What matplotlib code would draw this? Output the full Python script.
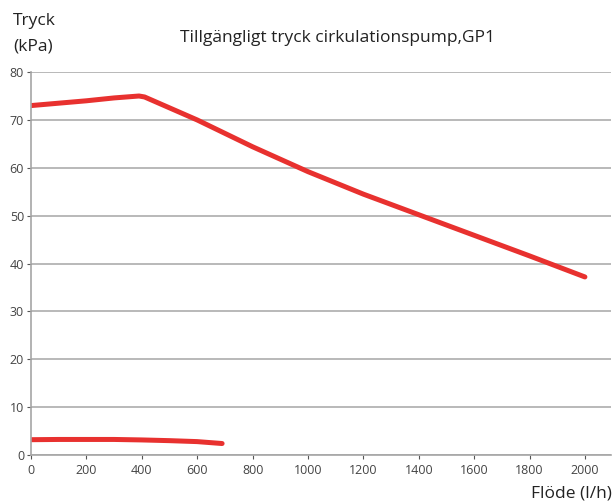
import matplotlib
matplotlib.use("Agg")
import matplotlib.pyplot as plt

# upper curve: available pressure
flow_high = [0, 100, 200, 300, 390, 410, 600, 800, 1000, 1200, 1400, 1600, 1800, 2000]
press_high = [73, 73.5, 74.0, 74.6, 75.0, 74.8, 70.0, 64.4, 59.2, 54.5, 50.2, 45.9, 41.6, 37.2]

# lower curve
flow_low = [0, 100, 200, 300, 400, 500, 600, 690]
press_low = [3.2, 3.25, 3.25, 3.25, 3.15, 3.0, 2.8, 2.4]

xticks = list(range(0, 2001, 200))
yticks = list(range(0, 81, 10))

plt.rcParams['font.family'] = ['Open Sans', 'DejaVu Sans']

fig = plt.figure(figsize=(6.14, 5.04), dpi=100)
ax = fig.add_axes([0.0505, 0.0972, 0.9445, 0.7598])

red = '#e8312f'
ax.plot(flow_high, press_high, color=red, lw=3.6, solid_capstyle='round', solid_joinstyle='round')
ax.plot(flow_low, press_low, color=red, lw=3.6, solid_capstyle='round', solid_joinstyle='round')

ax.set_xlim(0, 2094)
ax.set_ylim(0, 80)
ax.set_xticks(xticks)
ax.set_yticks(yticks)
ax.tick_params(axis='both', labelsize=9, colors='#555555', length=3, width=0.8)
ax.tick_params(axis='y', length=3, pad=2)
for lbl in ax.get_xticklabels() + ax.get_yticklabels():
    lbl.set_color('#444444')

ax.grid(axis='y', color='#adadad', lw=1.2)
ax.set_axisbelow(True)
for s in ['top', 'right']:
    ax.spines[s].set_visible(False)
for s in ['left', 'bottom']:
    ax.spines[s].set_color('#a6a6a6')
    ax.spines[s].set_linewidth(1.2)

fig.text(0.021, 0.975, 'Tryck\n(kPa)', fontsize=12.5, va='top', ha='left', color='#222222', linespacing=1.8)
fig.text(0.55, 0.925, 'Tillgängligt tryck cirkulationspump,GP1', fontsize=12.5, ha='center', va='center', color='#222222')
fig.text(0.997, 0.004, 'Flöde (l/h)', fontsize=12.5, ha='right', va='bottom', color='#222222')

fig.savefig('out.png', dpi=100)
